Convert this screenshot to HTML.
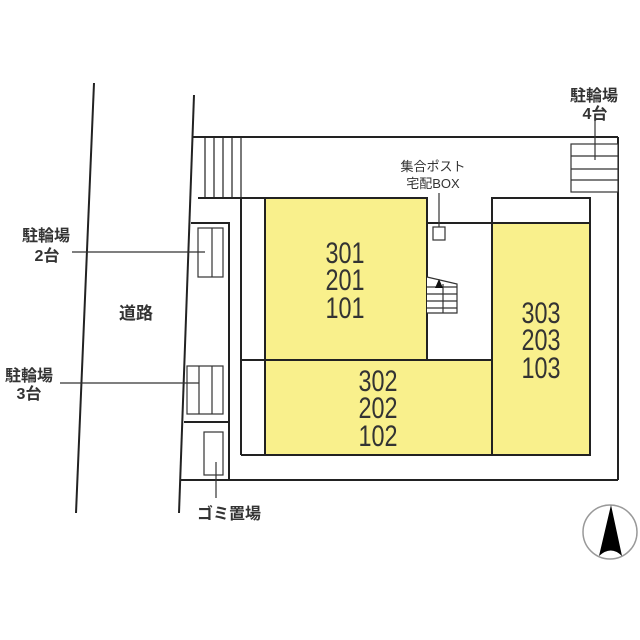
<!DOCTYPE html>
<html><head><meta charset="utf-8"><style>
html,body{margin:0;padding:0;background:#fff;width:640px;height:640px;overflow:hidden}
text{font-family:"Liberation Sans","Noto Sans CJK JP",sans-serif;fill:#333}
</style></head><body>
<svg width="640" height="640" viewBox="0 0 640 640" xmlns="http://www.w3.org/2000/svg">
<g stroke="#222" stroke-width="2" fill="none">
<line x1="94" y1="83" x2="76" y2="513"/>
<line x1="194" y1="95" x2="179" y2="513"/>
<line x1="193" y1="137" x2="618" y2="137"/>
<line x1="618" y1="137" x2="618" y2="480"/>
<line x1="181" y1="480" x2="618" y2="480"/>
<g stroke-width="1.2">
<line x1="205" y1="137" x2="205" y2="198"/>
<line x1="214" y1="137" x2="214" y2="198"/>
<line x1="223" y1="137" x2="223" y2="198"/>
<line x1="232" y1="137" x2="232" y2="198"/>
<line x1="241" y1="137" x2="241" y2="198"/>
</g>
<line x1="198" y1="198" x2="265" y2="198"/>
<line x1="241" y1="198" x2="241" y2="455"/>
<line x1="241" y1="455" x2="590" y2="455"/>
<line x1="241" y1="360" x2="265" y2="360"/>
<polyline points="191,223 229,223 229,480"/>
<line x1="184" y1="422" x2="229" y2="422"/>
</g>
<g stroke="#222" stroke-width="2">
<rect x="265" y="198" width="162" height="162" fill="#f9f08c"/>
<rect x="265" y="360" width="227" height="95" fill="#f9f08c"/>
<rect x="492" y="198" width="98" height="257" fill="#fff"/>
<rect x="492" y="223" width="98" height="232" fill="#f9f08c"/>
<line x1="427" y1="223" x2="492" y2="223"/>
</g>
<g stroke="#333" stroke-width="1.2" fill="#fff">
<line x1="439" y1="193" x2="439" y2="227"/>
<rect x="433" y="227" width="12" height="13"/>
<polyline points="427,277 457,284 457,313 427,313"/>
<line x1="427" y1="287" x2="457" y2="287" />
<line x1="427" y1="294" x2="457" y2="294" />
<line x1="427" y1="301" x2="457" y2="301" />
<line x1="427" y1="308" x2="457" y2="308" />
<line x1="443" y1="284" x2="443" y2="313"/>
<rect x="571" y="144" width="47" height="48"/>
<line x1="571" y1="156" x2="618" y2="156"/>
<line x1="571" y1="169" x2="618" y2="169"/>
<line x1="571" y1="180" x2="618" y2="180"/>
<rect x="198" y="228" width="25" height="49"/>
<line x1="212" y1="228" x2="212" y2="277"/>
<rect x="187" y="366" width="36" height="48"/>
<line x1="199" y1="366" x2="199" y2="414"/>
<line x1="212" y1="366" x2="212" y2="414"/>
<rect x="204" y="432" width="19" height="43"/>
</g>
<polygon points="439,279 435,288 443,288" fill="#111"/>
<g stroke="#333" stroke-width="1.2">
<line x1="595" y1="120" x2="595" y2="160"/>
<line x1="72" y1="252" x2="205" y2="252"/>
<line x1="60" y1="383" x2="199" y2="383"/>
<line x1="216" y1="462" x2="216" y2="498"/>
</g>
<circle cx="610" cy="532" r="27" fill="none" stroke="#999" stroke-width="1.5"/>
<path d="M611,505 L599,556 Q611,545 622,556 Z" fill="#000"/>
<g font-size="16" font-weight="bold" text-anchor="middle" fill="#444">
<text x="594" y="101" fill="#444">駐輪場</text>
<text x="595" y="119" fill="#444">4台</text>
<text x="46" y="241" fill="#444">駐輪場</text>
<text x="47" y="261" fill="#444">2台</text>
<text x="29" y="381" fill="#444">駐輪場</text>
<text x="29" y="399" fill="#444">3台</text>
<text x="136" y="319" font-size="17" fill="#444">道路</text>
<text x="229" y="519" fill="#444">ゴミ置場</text>
<text x="433" y="171" font-size="13" font-weight="normal">集合ポスト</text>
<text x="433" y="188" font-size="13" font-weight="normal">宅配BOX</text>
</g>
<g font-size="30" text-anchor="middle">
<text transform="translate(345,263) scale(0.78,1)" fill="#222">301</text>
<text transform="translate(345,290) scale(0.78,1)" fill="#222">201</text>
<text transform="translate(345,318) scale(0.78,1)" fill="#222">101</text>
<text transform="translate(378,391) scale(0.78,1)" fill="#222">302</text>
<text transform="translate(378,418) scale(0.78,1)" fill="#222">202</text>
<text transform="translate(378,446) scale(0.78,1)" fill="#222">102</text>
<text transform="translate(541,323) scale(0.78,1)" fill="#222">303</text>
<text transform="translate(541,350) scale(0.78,1)" fill="#222">203</text>
<text transform="translate(541,378) scale(0.78,1)" fill="#222">103</text>
</g>
</svg>
</body></html>
